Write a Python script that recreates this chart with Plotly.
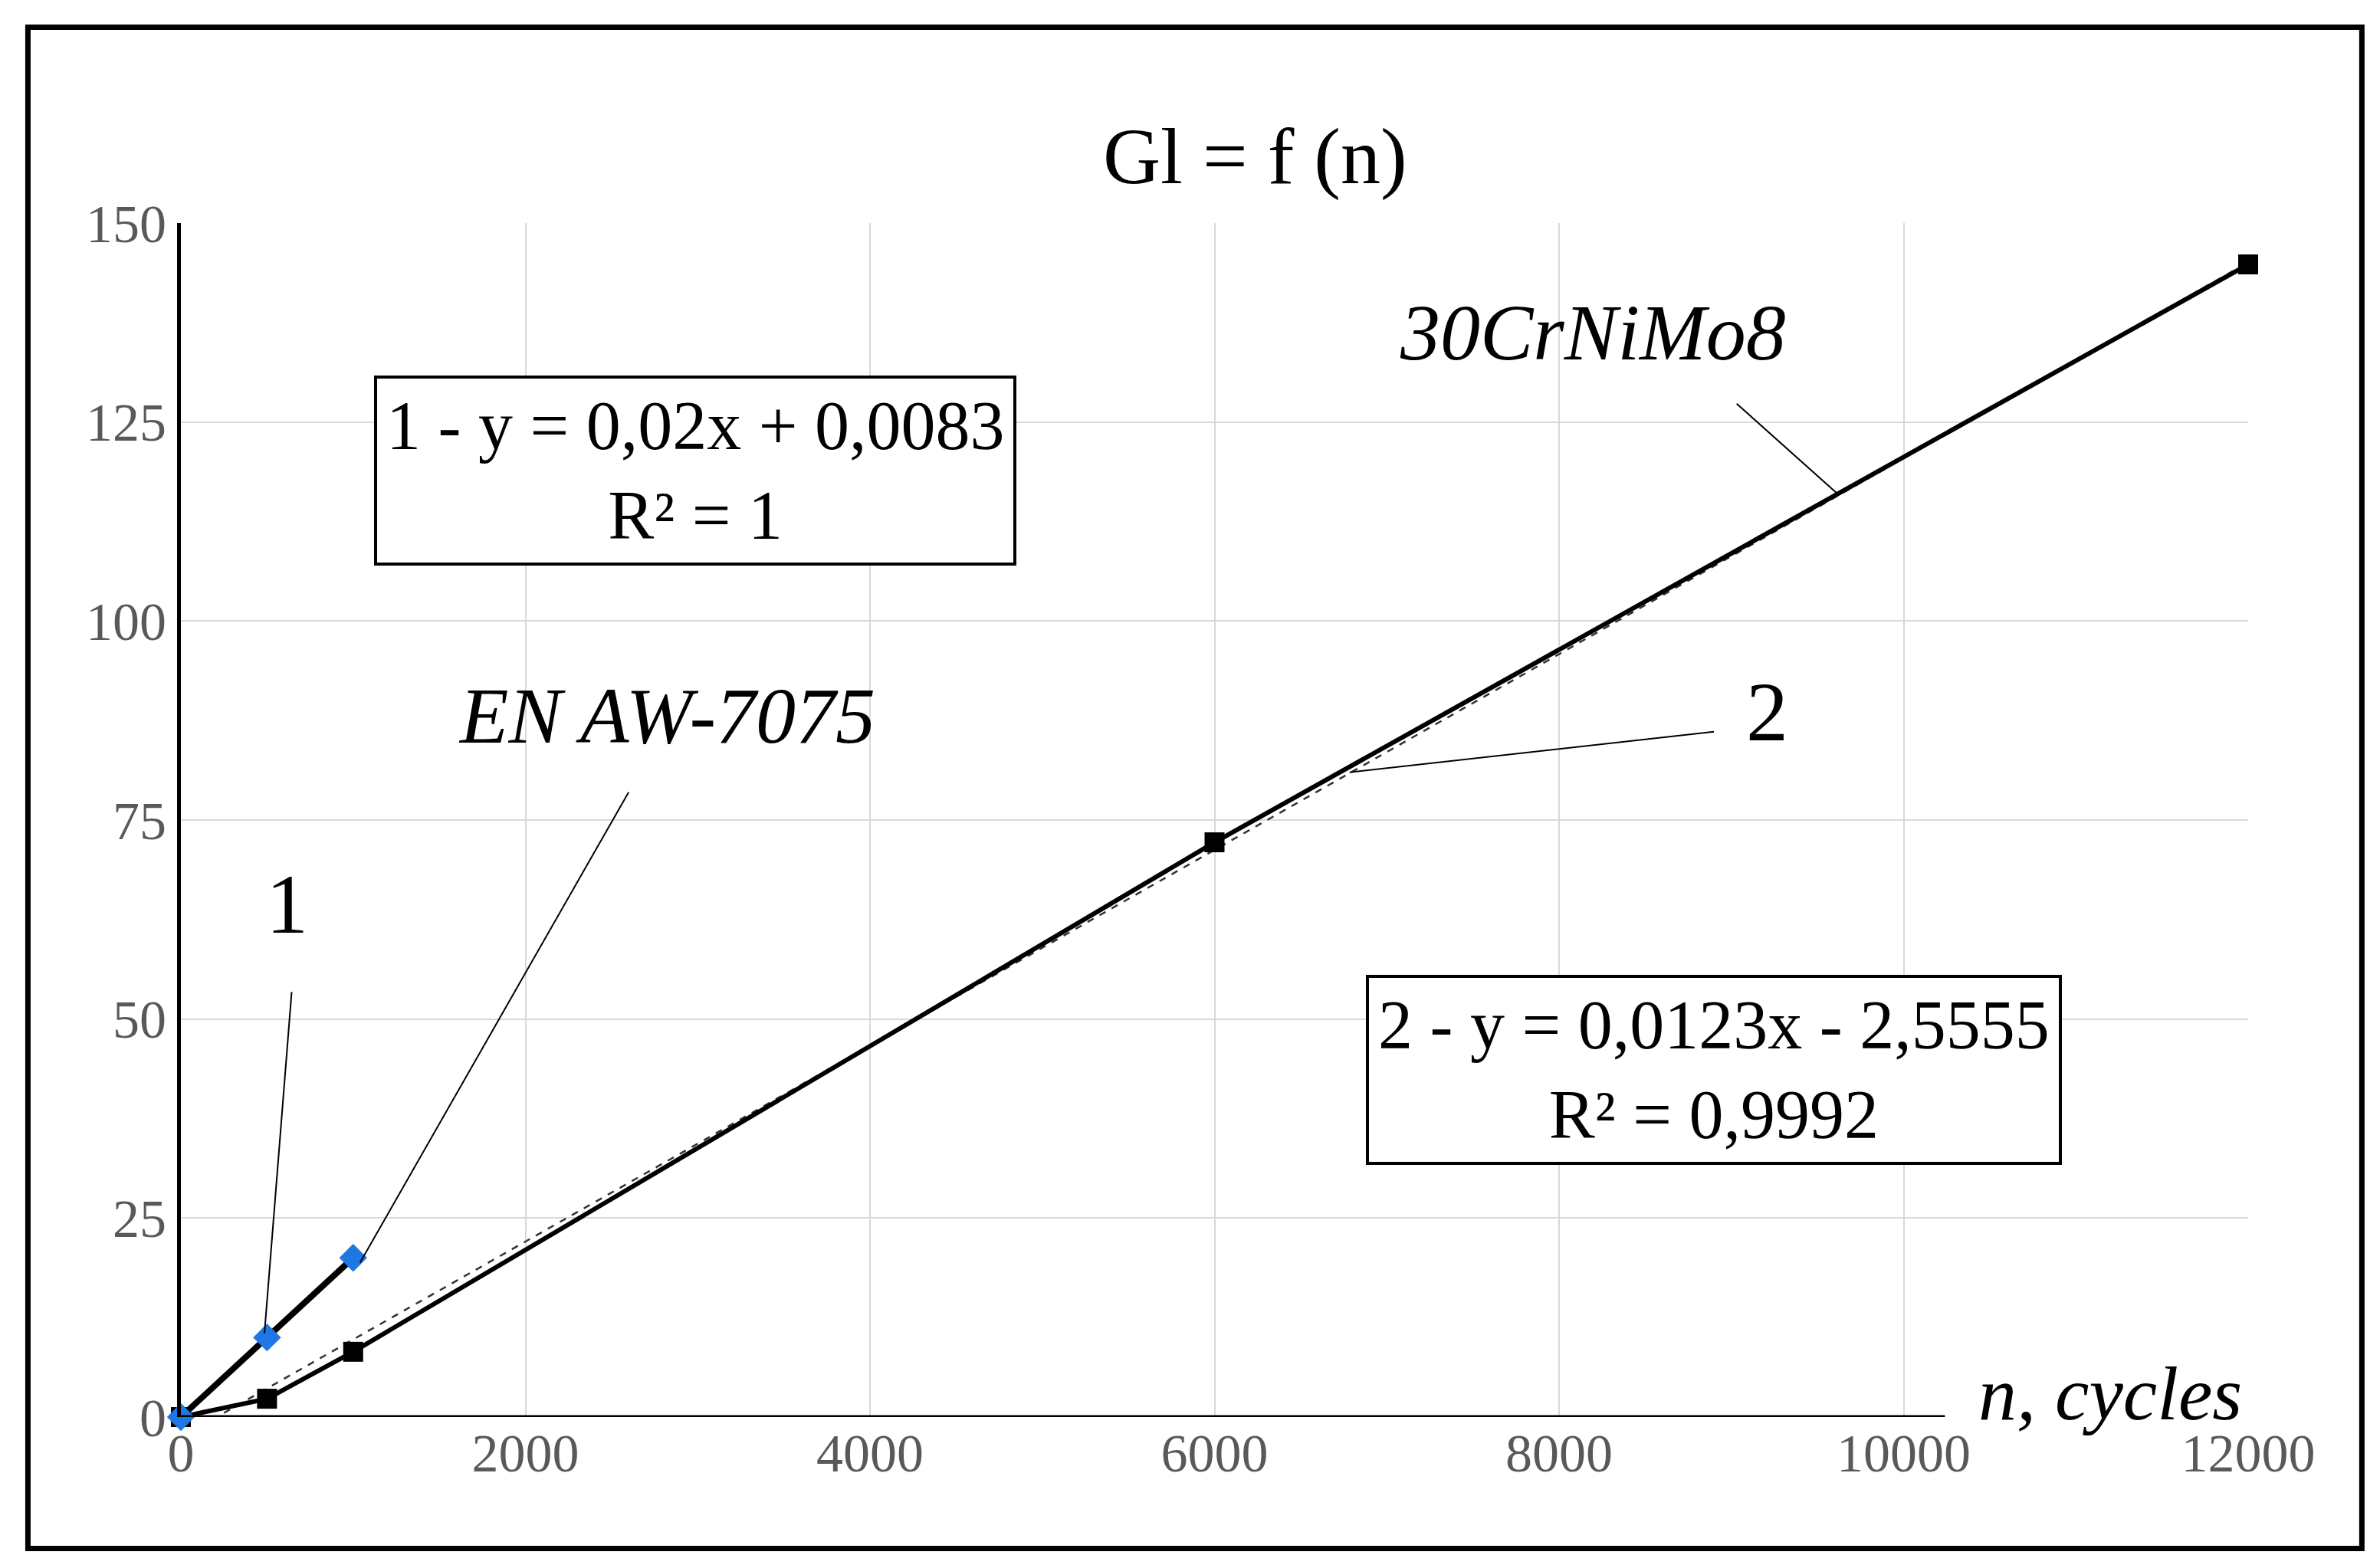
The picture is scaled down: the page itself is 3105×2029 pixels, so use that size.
import plotly.graph_objects as go

n1 = [0, 500, 1000]
gl1 = [0, 10, 20]
n2 = [0, 500, 1000, 6000, 12000]
gl2 = [0, 2.3, 8.2, 72.2, 144.8]
trend_x = [250, 12000]
trend_y = [0.0123 * x - 2.5555 for x in trend_x]
xticks = [0, 2000, 4000, 6000, 8000, 10000, 12000]
xticklabels = ["0", "2000", "4000", "6000", "8000", "10000", "12000"]
yticks = [0, 25, 50, 75, 100, 125, 150]

F = "Liberation Serif"
fig = go.Figure()
fig.add_trace(go.Scatter(x=trend_x, y=trend_y, mode="lines",
                         line=dict(color="#333", width=2.5, dash="dash"), cliponaxis=True))
fig.add_trace(go.Scatter(x=n2, y=gl2, mode="lines+markers",
                         line=dict(color="black", width=6),
                         marker=dict(symbol="square", size=26, color="black"), cliponaxis=False))
fig.add_trace(go.Scatter(x=n1, y=gl1, mode="lines+markers",
                         line=dict(color="black", width=8),
                         marker=dict(symbol="diamond", size=28, color="#1f77e4"), cliponaxis=False))

fig.update_layout(
    width=3105, height=2029, showlegend=False,
    paper_bgcolor="white", plot_bgcolor="white",
    margin=dict(l=228, r=180, t=283, b=188),
    font=dict(family=F, color="black"),
    xaxis=dict(range=[0, 12000], tickvals=xticks, ticktext=xticklabels, showgrid=True,
               gridcolor="#d9d9d9", gridwidth=2, zeroline=False, showline=False, ticks="",
               tickfont=dict(size=70, color="#595959", family=F)),
    yaxis=dict(range=[0, 150], tickvals=yticks, showgrid=True, gridcolor="#d9d9d9", gridwidth=2,
               zeroline=False, showline=True, linecolor="black", linewidth=5, ticks="",
               tickfont=dict(size=70, color="#595959", family=F)),
)

shapes = [
    dict(type="rect", xref="paper", yref="paper", x0=-0.074, x1=1.055, y0=-0.110, y1=1.164,
         line=dict(color="black", width=7)),
    dict(type="line", x0=0, x1=10240, y0=0, y1=0, line=dict(color="black", width=5)),
    dict(type="line", x0=9031, y0=127.3, x1=9621, y1=115.9, line=dict(color="black", width=2)),
    dict(type="line", x0=2599, y0=78.5, x1=1040, y1=19.4, line=dict(color="black", width=2)),
    dict(type="line", x0=643, y0=53.4, x1=485, y1=10.5, line=dict(color="black", width=2)),
    dict(type="line", x0=8899, y0=86.1, x1=6784, y1=81.0, line=dict(color="black", width=2)),
]
fig.update_layout(shapes=shapes)

def ann(x, y, text, size, italic=False, box=False, xanchor="center", yref="y"):
    fig.add_annotation(x=x, y=y, yref=yref, text=f"<i>{text}</i>" if italic else text, showarrow=False,
                       font=dict(size=size, family=F, color="black"), xanchor=xanchor,
                       bgcolor="white" if box else None,
                       bordercolor="black" if box else None, borderwidth=4 if box else 0,
                       borderpad=12 if box else 0)

ann(2987, 118.9, "1 - y = 0,02x + 0,0083<br>R² = 1", 90, box=True)
ann(8899, 43.6, "2 - y = 0,0123x - 2,5555<br>R² = 0,9992", 90, box=True)
ann(8194, 136.3, "30CrNiMo8", 104, italic=True)
ann(2819, 88.1, "EN AW-7075", 104, italic=True)
ann(617, 64.4, "1", 110)
ann(9207, 88.6, "2", 110)
ann(-650, 1.093, "Gl,  μm", 100, italic=True, xanchor="left", yref="paper")
ann(6238, 1.093, "Gl = f (n)", 104, yref="paper")
ann(11200, 2.9, "n, cycles", 100, italic=True)

fig.write_html("out.html")
